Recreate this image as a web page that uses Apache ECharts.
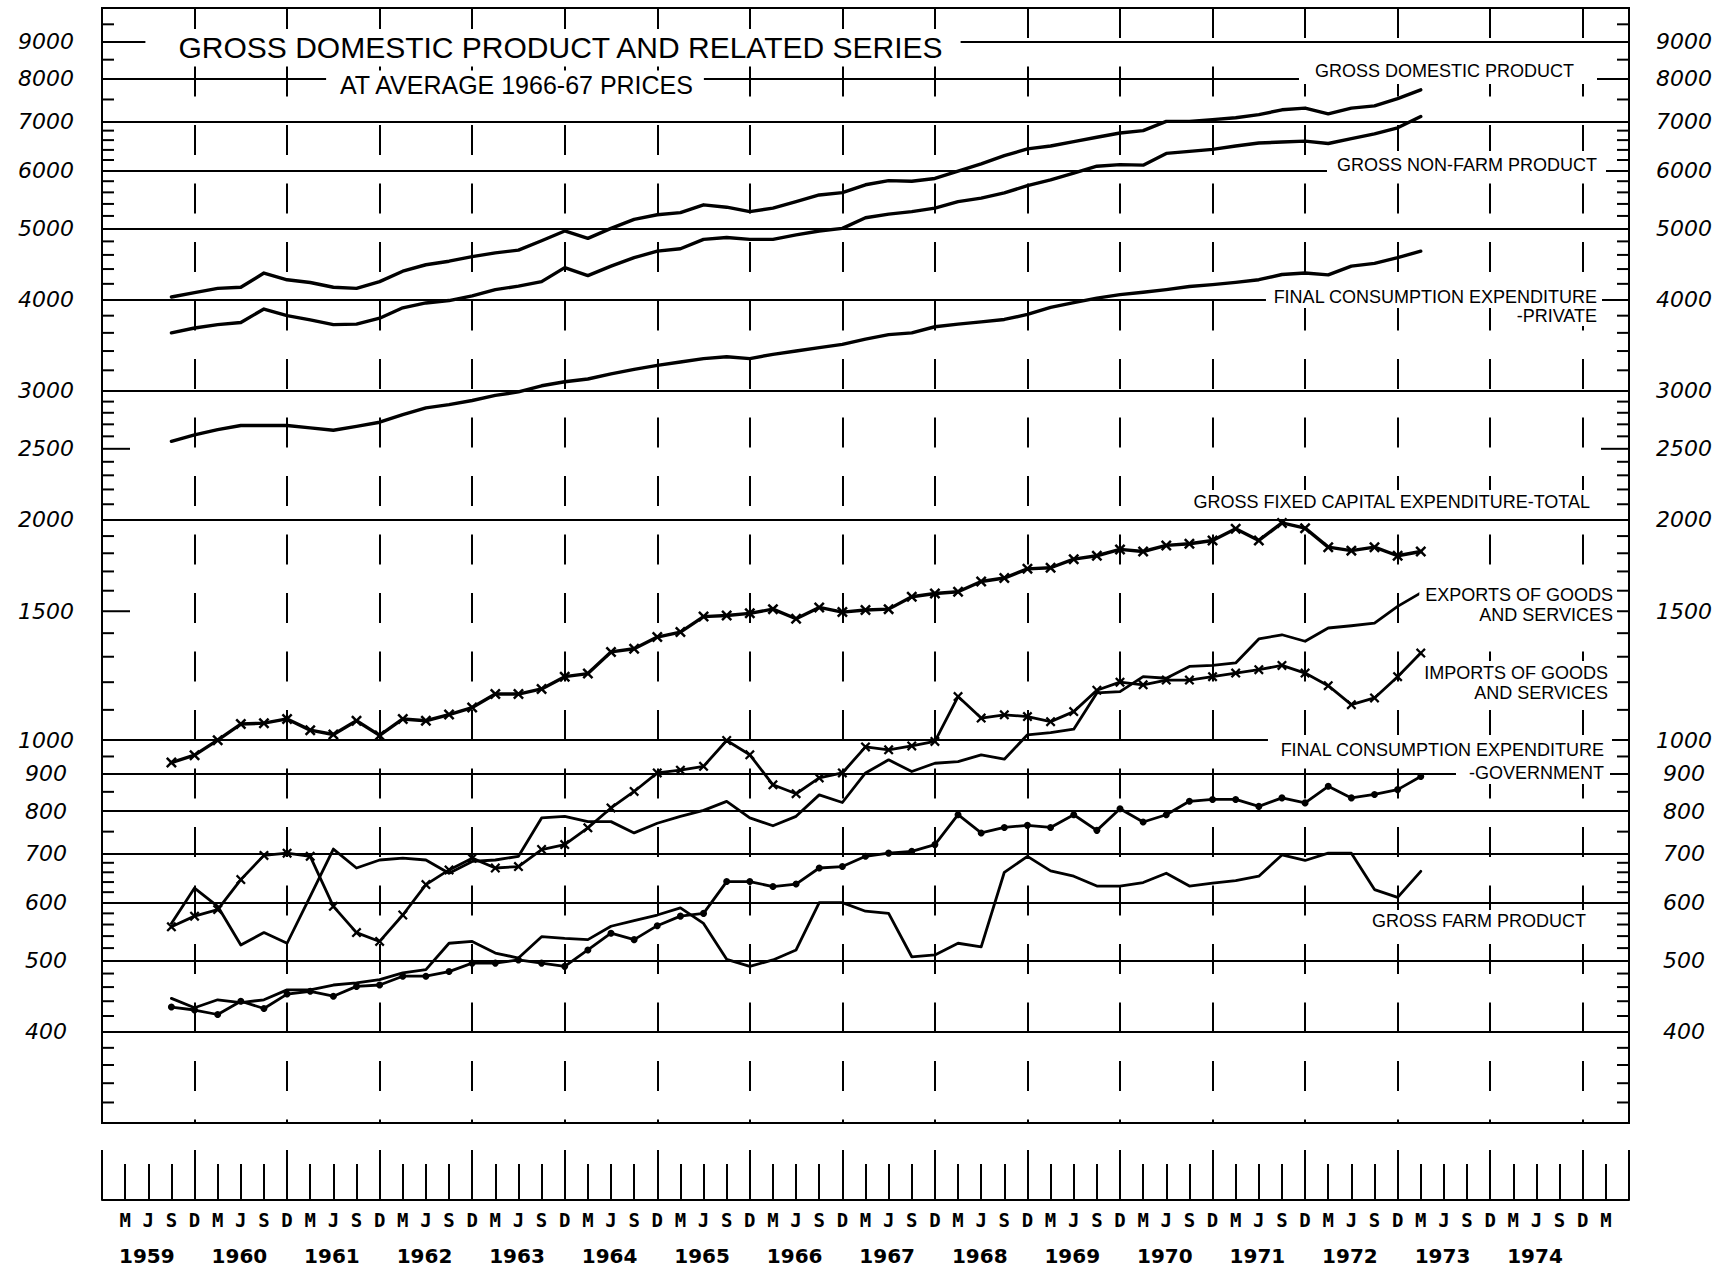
<!DOCTYPE html>
<html>
<head>
<meta charset="utf-8">
<title>Gross domestic product and related series</title>
<script src="https://cdn.jsdelivr.net/npm/echarts@6/dist/echarts.min.js"></script>
<style>
  html, body { margin: 0; padding: 0; background: #fff; }
  #chart { width: 1726px; height: 1273px; }
</style>
</head>
<body>
<div id="chart"></div>
<script>
// x = quarter number: 0 = Dec qtr 1958, 1 = Mar qtr 1959, 4 = Dec qtr 1959 ...
const firstQuarter = 3; // Sep quarter 1959
const quarterLetters = ['D', 'M', 'J', 'S'];
const firstYear = 1959;
const lastYear = 1974;

// $m at average 1966-67 prices, Sep qtr 1959 .. Mar qtr 1973
const gdp = [4030, 4085, 4140, 4155, 4345, 4254, 4218, 4155, 4140, 4230,
  4370, 4460, 4510, 4575, 4630, 4670, 4810, 4960, 4845, 5000,
  5145, 5220, 5255, 5385, 5345, 5270, 5330, 5440, 5555, 5595,
  5735, 5810, 5800, 5850, 5985, 6125, 6285, 6420, 6480, 6570,
  6660, 6750, 6800, 7000, 7000, 7040, 7080, 7150, 7260, 7300,
  7170, 7300, 7350, 7520, 7730];
const nonFarm = [3600, 3655, 3695, 3720, 3880, 3800, 3750, 3695, 3700, 3770,
  3895, 3955, 3985, 4045, 4125, 4170, 4230, 4420, 4310, 4440,
  4560, 4655, 4690, 4830, 4860, 4830, 4830, 4900, 4960, 5000,
  5170, 5230, 5270, 5330, 5440, 5500, 5590, 5720, 5825, 5950,
  6080, 6110, 6100, 6330, 6370, 6410, 6480, 6540, 6560, 6580,
  6530, 6630, 6730, 6860, 7110];
const privateCons = [2560, 2612, 2655, 2690, 2690, 2690, 2670, 2650, 2683, 2718,
  2783, 2843, 2873, 2910, 2957, 2990, 3048, 3087, 3114, 3165,
  3210, 3250, 3285, 3320, 3340, 3320, 3365, 3400, 3437, 3472,
  3530, 3580, 3600, 3670, 3700, 3727, 3755, 3815, 3900, 3960,
  4015, 4060, 4090, 4125, 4165, 4190, 4220, 4255, 4325, 4345,
  4320, 4440, 4480, 4560, 4655];
const fixedCapital = [932, 954, 1000, 1052, 1055, 1069, 1032, 1018, 1063, 1015,
  1069, 1063, 1084, 1108, 1156, 1156, 1175, 1221, 1233, 1320,
  1333, 1383, 1405, 1475, 1480, 1490, 1510, 1465, 1518, 1496,
  1506, 1510, 1570, 1586, 1595, 1647, 1665, 1714, 1720, 1767,
  1786, 1822, 1810, 1845, 1855, 1874, 1944, 1874, 1980, 1948,
  1835, 1815, 1835, 1786, 1810];
const exportsGS = [562, 628, 593, 525, 546, 528, 612, 710, 669, 686,
  690, 686, 658, 683, 686, 694, 783, 787, 774, 774,
  747, 770, 787, 802, 825, 783, 764, 787, 842, 822,
  902, 940, 906, 930, 935, 955, 942, 1017, 1024, 1035,
  1160, 1165, 1221, 1215, 1261, 1265, 1275, 1375, 1393, 1365,
  1423, 1433, 1445, 1523, 1589];
const importsGS = [556, 575, 587, 645, 696, 701, 694, 593, 546, 531,
  577, 635, 665, 690, 669, 672, 709, 720, 759, 808,
  851, 902, 910, 921, 999, 955, 869, 845, 888, 902,
  979, 970, 982, 996, 1147, 1072, 1083, 1077, 1060, 1094,
  1170, 1200, 1190, 1208, 1208, 1221, 1235, 1248, 1265, 1235,
  1187, 1118, 1142, 1221, 1315];
const govCons = [432, 428, 422, 440, 430, 450, 454, 447, 461, 463,
  476, 476, 483, 496, 496, 501, 496, 491, 517, 545,
  534, 558, 575, 580, 641, 641, 631, 636, 669, 672,
  694, 701, 705, 720, 791, 747, 760, 765, 760, 791,
  753, 806, 773, 791, 825, 830, 830, 812, 834, 821,
  865, 834, 843, 856, 892];
const farm = [444, 431, 442, 438, 442, 456, 456, 463, 466, 471,
  481, 486, 528, 531, 512, 504, 539, 536, 534, 557,
  567, 577, 590, 562, 502, 491, 501, 517, 600, 600,
  584, 580, 506, 509, 528, 522, 660, 694, 663, 652,
  632, 632, 639, 658, 632, 638, 643, 652, 697, 685,
  701, 701, 625, 610, 662];

// scale furniture
const gridValues = [400, 500, 600, 700, 800, 900, 1000, 2000, 3000, 4000, 5000, 6000, 7000, 8000, 9000];
const axisLabels = [400, 500, 600, 700, 800, 900, 1000, 1500, 2000, 2500, 3000, 4000, 5000, 6000, 7000, 8000, 9000];
const minorTicks = [320, 340, 360, 380, 420, 440, 460, 480, 520, 540, 560, 580, 620, 640, 660, 680,
  750, 850, 950, 1100, 1200, 1300, 1400, 1500, 1600, 1700, 1800, 1900,
  2100, 2200, 2300, 2400, 2500, 2600, 2700, 2800, 2900,
  3200, 3400, 3600, 3800, 4200, 4400, 4600, 4800, 5200, 5400, 5600, 5800,
  6200, 6400, 6600, 6800, 7500, 8500, 9500];
const longTicks = [1500, 2500];

const xMin = 0, xMax = 66;
const toPoints = values => values.map((v, i) => [firstQuarter + i, v]);
const crossMark = 'path://M0,1.6L1.6,0L5,3.4L8.4,0L10,1.6L6.6,5L10,8.4L8.4,10L5,6.6L1.6,10L0,8.4L3.4,5Z';

function lineSeries(name, values, extra) {
  return Object.assign({
    name: name,
    type: 'line',
    xAxisIndex: 0,
    yAxisIndex: 0,
    data: toPoints(values),
    symbol: 'none',
    silent: true,
    z: 4,
    lineStyle: { color: '#000', width: 3.4, join: 'round', cap: 'round' },
    itemStyle: { color: '#000' }
  }, extra || {});
}
const thinLine = { color: '#000', width: 2.8, join: 'round', cap: 'round' };

const labelFont = { fontFamily: 'Liberation Sans', fontSize: 18, fill: '#000', backgroundColor: '#fff' };
function seriesLabel(text, x, y, padding, align, extra) {
  return {
    type: 'text', x: x, y: y, z: 100, silent: true,
    style: Object.assign({ text: text, align: align || 'right', verticalAlign: 'middle', padding: padding }, labelFont, extra || {})
  };
}

const chart = echarts.init(document.getElementById('chart'), null, { renderer: 'svg' });

const option = {
  animation: false,
  backgroundColor: '#fff',
  grid: [
    { left: 102, top: 8, width: 1527, height: 1115, show: true, borderColor: '#000', borderWidth: 2, backgroundColor: 'transparent' },
    { left: 102, top: 1150, width: 1527, height: 50, show: false }
  ],
  xAxis: [
    {
      gridIndex: 0, type: 'value', min: xMin, max: xMax, interval: 4,
      axisLine: { show: false }, axisTick: { show: false }, axisLabel: { show: false },
      splitLine: { show: true, lineStyle: { color: '#000', width: 2, type: [30, 28.5] } }
    },
    {
      gridIndex: 1, type: 'value', min: xMin, max: xMax, interval: 1, position: 'bottom',
      axisLine: { show: true, lineStyle: { color: '#000', width: 2 } },
      axisTick: { show: true, inside: true, length: 36, lineStyle: { color: '#000', width: 2 } },
      splitLine: { show: false },
      axisLabel: {
        margin: 10, color: '#000', fontFamily: 'DejaVu Sans Mono', fontWeight: 'bold', fontSize: 19,
        formatter: v => (v <= xMin || v >= xMax) ? '' : quarterLetters[v % 4]
      }
    },
    {
      gridIndex: 1, type: 'value', min: xMin, max: xMax, interval: 4, position: 'bottom',
      axisLine: { show: false },
      axisTick: { show: true, inside: true, length: 50, lineStyle: { color: '#000', width: 2 } },
      splitLine: { show: false },
      axisLabel: {
        margin: 46, align: 'left', padding: [0, 0, 0, 17], color: '#000',
        fontFamily: 'DejaVu Sans', fontWeight: 'bold', fontSize: 20,
        formatter: v => {
          const y = firstYear + v / 4;
          return (v % 4 === 0 && y <= lastYear) ? String(y) : '';
        }
      }
    }
  ],
  yAxis: [
    {
      gridIndex: 0, type: 'log', logBase: 10, min: 300, max: 10000,
      axisLine: { show: false }, axisTick: { show: false }, axisLabel: { show: false }, splitLine: { show: false }
    },
    { gridIndex: 1, type: 'value', min: 0, max: 1, show: false }
  ],
  series: [
    lineSeries('Gross domestic product', gdp, {
      markLine: {
        silent: true, symbol: 'none', animation: false,
        label: { show: false },
        lineStyle: { color: '#000', width: 2, type: 'solid' },
        data: gridValues.map(v => ({ yAxis: v }))
      }
    }),
    lineSeries('Gross non-farm product', nonFarm),
    lineSeries('Final consumption expenditure - private', privateCons),
    lineSeries('Gross fixed capital expenditure - total', fixedCapital, {
      symbol: crossMark, symbolSize: 11, showAllSymbol: true
    }),
    lineSeries('Exports of goods and services', exportsGS, { lineStyle: thinLine }),
    lineSeries('Imports of goods and services', importsGS, {
      symbol: crossMark, symbolSize: 10, showAllSymbol: true, lineStyle: thinLine
    }),
    lineSeries('Final consumption expenditure - government', govCons, {
      symbol: 'circle', symbolSize: 7, showAllSymbol: true, lineStyle: thinLine
    }),
    lineSeries('Gross farm product', farm, { lineStyle: thinLine }),
    {
      // minor scale ticks on both vertical scales
      type: 'custom', name: 'scale ticks', xAxisIndex: 0, yAxisIndex: 0, silent: true, clip: false, z: 6,
      data: minorTicks.map(v => [xMin, v, longTicks.indexOf(v) >= 0 ? 28 : 12]),
      renderItem: (params, api) => {
        const v = api.value(1), len = api.value(2);
        const l = api.coord([xMin, v]), r = api.coord([xMax, v]);
        return {
          type: 'group', children: [
            { type: 'line', shape: { x1: l[0], y1: l[1], x2: l[0] + len, y2: l[1] }, style: { stroke: '#000', lineWidth: 2 } },
            { type: 'line', shape: { x1: r[0] - len, y1: r[1], x2: r[0], y2: r[1] }, style: { stroke: '#000', lineWidth: 2 } }
          ]
        };
      }
    },
    {
      // scale numbers left and right
      type: 'custom', name: 'scale labels', xAxisIndex: 0, yAxisIndex: 0, silent: true, clip: false, z: 6,
      data: axisLabels.map(v => [xMin, v]),
      renderItem: (params, api) => {
        const v = api.value(1);
        const l = api.coord([xMin, v]), r = api.coord([xMax, v]);
        const st = () => ({ text: String(v), fontFamily: 'DejaVu Sans', fontStyle: 'italic', fontSize: 22, fill: '#000', align: 'center', verticalAlign: 'middle' });
        return {
          type: 'group', children: [
            { type: 'text', x: l[0] - 56, y: l[1], style: st() },
            { type: 'text', x: r[0] + 55, y: r[1], style: st() }
          ]
        };
      }
    }
  ],
  graphic: [
    seriesLabel('GROSS DOMESTIC PRODUCT AND RELATED SERIES', 553, 47, [3, 17, 3, 32], 'center', { fontSize: 30 }),
    seriesLabel('AT AVERAGE 1966-67 PRICES', 515, 85, [2, 10, 2, 13], 'center', { fontSize: 25 }),
    seriesLabel('GROSS DOMESTIC PRODUCT', 1597, 71, [3, 23, 5, 16]),
    seriesLabel('GROSS NON-FARM PRODUCT', 1606, 164.5, [3, 9, 6, 10]),
    seriesLabel('FINAL CONSUMPTION EXPENDITURE', 1602, 297, [2, 5, 2, 7]),
    seriesLabel('-PRIVATE', 1602, 316, [1, 5, 1, 5]),
    seriesLabel('GROSS FIXED CAPITAL EXPENDITURE-TOTAL', 1596, 502, [3, 6, 3, 8]),
    seriesLabel('EXPORTS OF GOODS\nAND SERVICES', 1617, 605, [2, 4, 2, 6], 'right', { lineHeight: 20 }),
    seriesLabel('IMPORTS OF GOODS\nAND SERVICES', 1612, 683, [2, 4, 2, 6], 'right', { lineHeight: 20 }),
    seriesLabel('FINAL CONSUMPTION EXPENDITURE', 1612, 749.5, [9, 8, 2, 12]),
    seriesLabel('-GOVERNMENT', 1610, 772.5, [2, 6, 3, 13]),
    seriesLabel('GROSS FARM PRODUCT', 1592, 921, [2, 6, 2, 6])
  ]
};

chart.setOption(option);
</script>
</body>
</html>
